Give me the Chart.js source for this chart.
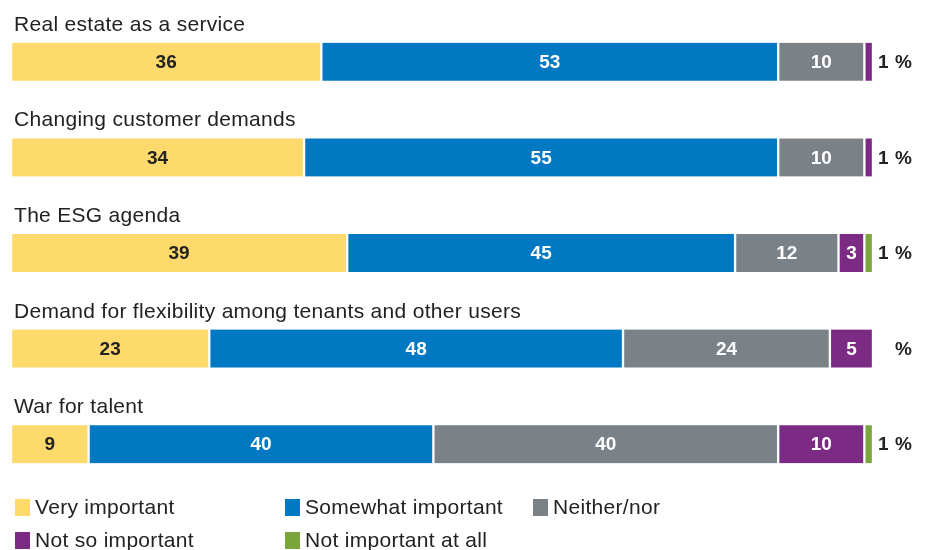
<!DOCTYPE html>
<html>
<head>
<meta charset="utf-8">
<script src="https://cdn.jsdelivr.net/npm/chart.js@4/dist/chart.umd.min.js"></script>
<style>
  html, body { margin: 0; padding: 0; background: #fff; }
  #wrap { width: 925px; height: 550px; }
</style>
</head>
<body>
<div id="wrap"><canvas id="importanceChart" width="925" height="550"></canvas></div>
<script>
const categories = [
    "Real estate as a service",
    "Changing customer demands",
    "The ESG agenda",
    "Demand for flexibility among tenants and other users",
    "War for talent"
];
const seriesNames = ["Very important", "Somewhat important", "Neither/nor", "Not so important", "Not important at all"];
const veryImportant = [36, 34, 39, 23, 9];
const somewhatImportant = [53, 55, 45, 48, 40];
const neitherNor = [10, 10, 12, 24, 40];
const notSoImportant = [1, 1, 3, 5, 10];
const notImportantAtAll = [0, 0, 1, 0, 1];

const colors = ['#FDDA6B', '#0079C2', '#7A8288', '#7B2B84', '#7BA63C'];
const labelColors = ['#222222', '#ffffff', '#ffffff', '#ffffff', '#ffffff'];
const FONT = '"Liberation Sans", Arial, Helvetica, sans-serif';

// draws the labels over the bars, the outside values and the legend
const labelsPlugin = {
    id: 'labelsPlugin',
    afterDatasetsDraw(chart) {
        const ctx = chart.ctx;
        const outside = categories.map(() => []);
        ctx.save();

        chart.data.datasets.forEach((ds, di) => {
            const meta = chart.getDatasetMeta(di);
            meta.data.forEach((bar, i) => {
                const v = ds.data[i];
                if (!v) return;
                if (v < 2) {
                    outside[i].push(v);
                    return;
                }
                ctx.font = 'bold 19px ' + FONT;
                ctx.fillStyle = labelColors[di];
                ctx.textAlign = 'center';
                ctx.textBaseline = 'middle';
                ctx.fillText(v, (bar.x + bar.base) / 2, bar.y + 1);
            });
        });

        // category titles above each bar
        const meta0 = chart.getDatasetMeta(0);
        meta0.data.forEach((bar, i) => {
            ctx.font = '21px ' + FONT;
            ctx.letterSpacing = '0.3px';
            ctx.fillStyle = '#222';
            ctx.textAlign = 'left';
            ctx.textBaseline = 'alphabetic';
            ctx.fillText(categories[i], 14, bar.y - bar.height / 2 - 12);
            ctx.letterSpacing = '0px';

            ctx.font = 'bold 19px ' + FONT;
            ctx.textBaseline = 'middle';
            if (outside[i].length) {
                ctx.textAlign = 'left';
                ctx.fillText(outside[i].join(' '), 878, bar.y + 1);
            }
            ctx.textAlign = 'right';
            ctx.fillText('%', 912, bar.y + 1);
        });

        // legend
        const legendPos = [[15, 507], [285, 507], [533, 507], [15, 540], [285, 540]];
        seriesNames.forEach((name, k) => {
            const [lx, ly] = legendPos[k];
            ctx.fillStyle = colors[k];
            ctx.fillRect(lx, ly - 8, 15, 17);
            ctx.fillStyle = '#222';
            ctx.font = '21px ' + FONT;
            ctx.letterSpacing = '0.3px';
            ctx.textAlign = 'left';
            ctx.textBaseline = 'middle';
            ctx.fillText(name, lx + 20, ly + 1);
            ctx.letterSpacing = '0px';
        });
        ctx.restore();
    }
};

const seriesData = [veryImportant, somewhatImportant, neitherNor, notSoImportant, notImportantAtAll];

new Chart(document.getElementById('importanceChart'), {
    type: 'bar',
    plugins: [labelsPlugin],
    data: {
        labels: categories,
        datasets: seriesNames.map((name, k) => ({
            label: name,
            data: seriesData[k],
            backgroundColor: colors[k],
            borderColor: '#ffffff',
            borderWidth: {left: 1.5, right: 1.5, top: 0, bottom: 0},
            borderSkipped: false,
            barThickness: 38
        }))
    },
    options: {
        indexAxis: 'y',
        responsive: false,
        animation: false,
        maintainAspectRatio: false,
        layout: {
            padding: {left: 11, right: 52, top: 14, bottom: 58}
        },
        scales: {
            x: {stacked: true, min: 0, max: 100, display: false},
            y: {stacked: true, display: false}
        },
        plugins: {
            legend: {display: false},
            tooltip: {enabled: false}
        }
    }
});
</script>
</body>
</html>
